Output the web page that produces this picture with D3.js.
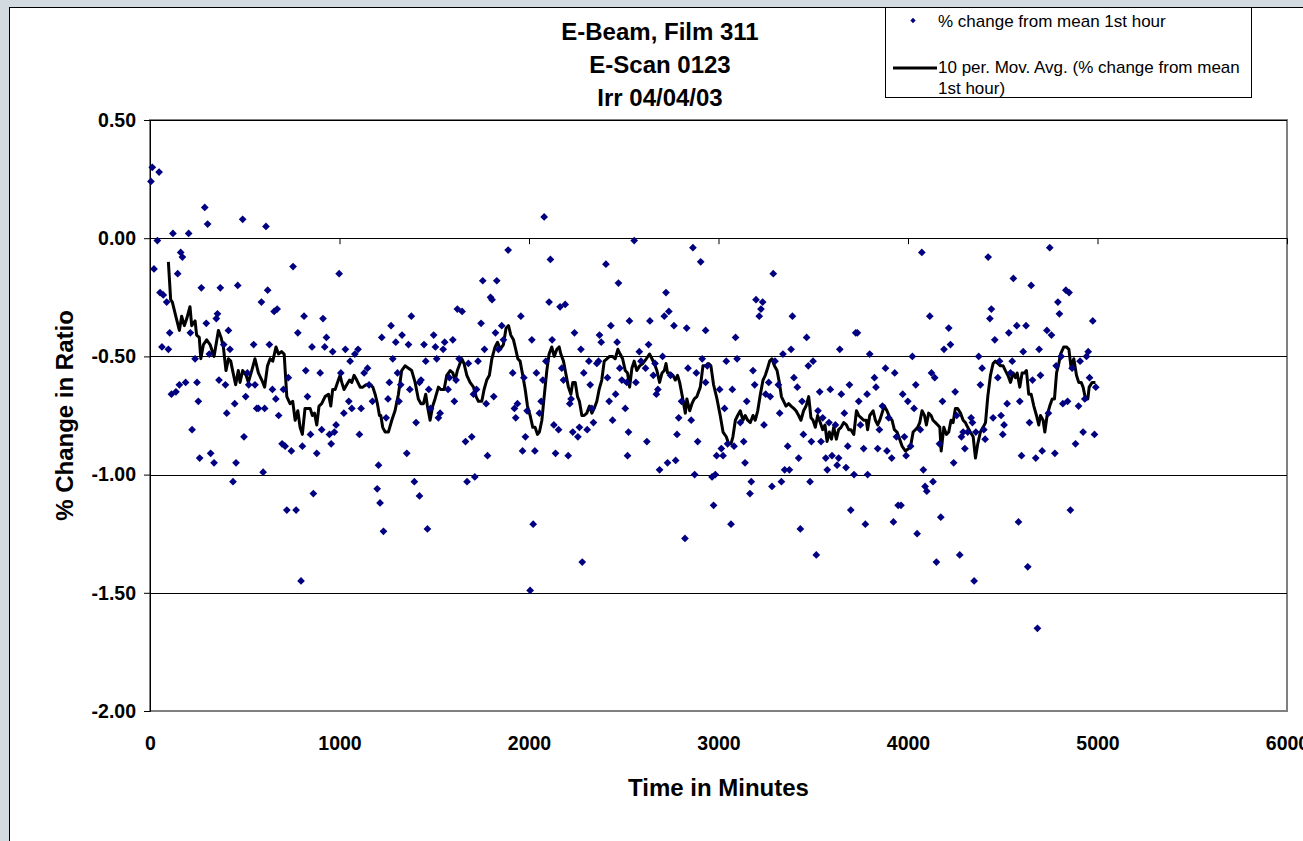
<!DOCTYPE html>
<html>
<head>
<meta charset="utf-8">
<script src="https://cdn.jsdelivr.net/npm/d3@7"></script>
<style>
  html, body { margin: 0; padding: 0; background: #d3dbe0; }
  svg { display: block; font-family: "Liberation Sans", Arial, sans-serif; }
  .tick text { font-weight: bold; font-size: 19.5px; fill: #000; }
</style>
</head>
<body>
<svg id="chart" width="1303" height="841"></svg>
<script>
// % change from mean of the 1st hour, [minutes, value]
var pts0 = [[5,0.24],[12,0.30],[48,0.28],[39,-0.01],[21,-0.13],[121,0.02],[204,0.02],[289,0.13],[304,0.06],[489,0.08],
  [612,0.05],[162,-0.06],[171,-0.08],[146,-0.15],[53,-0.23],[70,-0.24],[88,-0.27],[104,-0.40],[63,-0.46],[97,-0.47],
  [113,-0.66],[137,-0.65],[155,-0.62],[188,-0.61],[271,-0.21],[297,-0.36],[213,-0.40],[238,-0.51],[248,-0.61],[255,-0.69],
  [222,-0.81],[262,-0.93],[320,-0.91],[338,-0.95],[371,-0.21],[350,-0.34],[356,-0.32],[313,-0.49],[389,-0.45],[414,-0.39],
  [422,-0.47],[364,-0.60],[398,-0.62],[405,-0.74],[447,-0.70],[454,-0.95],[438,-1.03],[463,-0.20],[496,-0.84],[505,-0.67],
  [521,-0.62],[514,-0.57],[547,-0.45],[554,-0.62],[563,-0.72],[572,-0.72],[605,-0.72],[597,-0.99],[588,-0.27],[621,-0.22],
  [630,-0.45],[655,-0.31],[671,-0.30],[646,-0.64],[664,-0.68],[679,-0.75],[697,-0.87],[713,-0.88],[704,-0.64],[730,-0.59],
  [722,-1.15],[746,-0.90],[755,-0.12],[771,-1.15],[780,-0.40],[813,-0.33],[797,-1.45],[804,-0.88],[822,-0.56],[831,-0.67],
  [847,-0.83],[855,-0.46],[862,-1.08],[880,-0.91],[898,-0.57],[906,-0.81],[913,-0.34],[922,-0.46],[931,-0.42],[947,-0.83],
  [956,-0.87],[964,-0.48],[973,-0.82],[982,-0.79],[998,-0.15],[1007,-0.57],[1023,-0.74],[1031,-0.47],[1049,-0.69],[1056,-0.52],
  [1065,-0.72],[1081,-0.49],[1098,-0.47],[1105,-0.83],[1114,-0.72],[1130,-0.57],[1148,-0.55],[1156,-0.62],[1174,-0.69],[1206,-0.96],
  [1199,-1.06],[1214,-1.12]];
var pts1 = [[1232,-1.24],[1223,-0.42],[1246,-0.76],[1263,-0.61],[1256,-0.68],[1272,-0.37],[1281,-0.51],[1297,-0.44],[1306,-0.57],[1314,-0.69],
  [1323,-0.62],[1330,-0.41],[1364,-0.45],[1355,-0.91],[1371,-0.64],[1379,-0.33],[1395,-1.03],[1404,-0.78],[1422,-1.09],[1422,-0.61],
  [1430,-0.60],[1446,-0.45],[1455,-0.52],[1464,-1.23],[1471,-0.64],[1480,-0.72],[1497,-0.41],[1506,-0.46],[1513,-0.51],[1522,-0.76],
  [1531,-0.74],[1547,-0.47],[1555,-0.44],[1573,-0.64],[1580,-0.59],[1598,-0.43],[1606,-0.69],[1615,-0.60],[1622,-0.30],[1647,-0.31],
  [1631,-0.51],[1665,-0.86],[1673,-1.03],[1680,-0.53],[1698,-0.84],[1707,-0.66],[1714,-1.01],[1723,-0.64],[1731,-0.52],[1747,-0.36],
  [1756,-0.18],[1765,-0.47],[1774,-0.70],[1781,-0.92],[1797,-0.25],[1805,-0.26],[1814,-0.67],[1823,-0.40],[1830,-0.18],[1839,-0.47],
  [1856,-0.37],[1865,-0.43],[1890,-0.05],[1914,-0.57],[1923,-0.72],[1930,-0.76],[1939,-0.70],[1957,-0.33],[1966,-0.90],[1973,-0.59],
  [1981,-0.84],[1990,-0.73],[2006,-1.49],[2015,-0.43],[2022,-1.21],[2031,-0.90],[2039,-0.57],[2055,-0.74],[2064,-0.69],[2073,-0.60],
  [2080,0.09],[2089,-0.52],[2106,-0.27],[2113,-0.09],[2122,-0.43],[2131,-0.79],[2140,-0.91],[2156,-0.81],[2164,-0.29],[2173,-0.55],
  [2182,-0.60],[2191,-0.28],[2207,-0.92],[2215,-0.70],[2222,-0.68],[2231,-0.82],[2240,-0.40],[2258,-0.84],[2266,-0.80],[2274,-0.47],
  [2281,-1.37],[2289,-0.57],[2307,-0.81],[2316,-0.52],[2323,-0.62],[2332,-0.72],[2340,-0.78],[2358,-0.53],[2367,-0.52],[2372,-0.41],
  [2381,-0.44],[2406,-0.11],[2414,-0.59],[2423,-0.69],[2432,-0.37],[2441,-0.77],[2457,-0.66],[2465,-0.44],[2472,-0.19],[2479,-0.55],
  [2490,-0.60],[2508,-0.72],[2516,-0.61],[2525,-0.82],[2520,-0.92],[2530,-0.35]];
var pts2 = [[2555,-0.01],[2564,-0.61],[2582,-0.48],[2591,-0.52],[2615,-0.55],[2622,-0.86],[2631,-0.45],[2638,-0.35],[2656,-0.58],[2665,-0.53],
  [2672,-0.66],[2680,-0.64],[2689,-0.98],[2705,-0.50],[2714,-0.33],[2723,-0.23],[2731,-0.95],[2738,-0.31],[2747,-0.58],[2765,-0.37],
  [2774,-0.94],[2781,-0.83],[2790,-0.76],[2805,-0.69],[2823,-1.27],[2832,-0.38],[2839,-0.55],[2856,-0.77],[2865,-0.04],[2874,-1.00],
  [2883,-0.57],[2890,-0.86],[2906,-0.10],[2914,-0.51],[2932,-0.39],[2932,-0.61],[2941,-0.54],[2966,-1.01],[2974,-1.13],[2983,-1.00],
  [2990,-0.92],[3006,-0.64],[3015,-0.89],[3024,-0.92],[3032,-0.72],[3041,-0.52],[3048,-0.87],[3066,-1.21],[3073,-0.64],[3082,-0.88],
  [3090,-0.42],[3098,-0.51],[3115,-0.78],[3133,-0.86],[3140,-0.95],[3149,-0.69],[3166,-1.08],[3173,-1.03],[3182,-0.56],[3191,-0.62],
  [3198,-0.26],[3215,-0.33],[3224,-0.30],[3233,-0.27],[3240,-0.79],[3249,-0.66],[3265,-0.61],[3273,-0.67],[3282,-1.05],[3289,-0.15],
  [3298,-0.52],[3316,-0.62],[3323,-0.74],[3332,-1.03],[3340,-0.49],[3349,-0.98],[3365,-0.88],[3374,-0.98],[3383,-0.47],[3390,-0.33],
  [3398,-0.59],[3416,-0.63],[3423,-0.93],[3432,-1.23],[3441,-0.69],[3448,-0.83],[3465,-0.42],[3474,-0.54],[3483,-1.03],[3490,-0.86],
  [3499,-0.52],[3516,-1.34],[3525,-0.73],[3534,-0.65],[3541,-0.86],[3550,-0.76],[3566,-0.93],[3574,-0.98],[3583,-0.78],[3590,-0.64],
  [3599,-0.92],[3617,-0.79],[3626,-0.96],[3634,-0.93],[3640,-0.47],[3648,-0.66],[3664,-0.74],[3673,-0.97],[3682,-0.88],[3691,-0.62],
  [3698,-1.15],[3715,-1.00],[3724,-0.40],[3733,-0.40],[3740,-0.69],[3749,-0.79],[3766,-0.89],[3775,-1.21],[3784,-0.66],[3787,-1.00],
  [3798,-0.49]];
var pts3 = [[3823,-0.59],[3831,-0.63],[3849,-0.81],[3840,-0.89],[3865,-0.71],[3881,-0.55],[3889,-0.90],[3898,-0.76],[3914,-0.93],[3923,-1.20],
  [3930,-0.57],[3939,-0.84],[3948,-1.13],[3963,-1.13],[3972,-0.66],[3981,-0.84],[3990,-0.92],[3999,-0.69],[4014,-0.88],[4023,-0.50],
  [4032,-0.72],[4041,-0.62],[4048,-1.25],[4065,-0.81],[4073,-0.06],[4081,-0.98],[4090,-1.05],[4099,-1.07],[4115,-0.33],[4124,-0.57],
  [4132,-1.03],[4141,-0.59],[4150,-1.37],[4166,-0.87],[4173,-1.18],[4182,-0.69],[4190,-0.47],[4215,-0.38],[4224,-0.45],[4241,-0.95],
  [4249,-0.65],[4257,-0.75],[4273,-1.34],[4282,-0.84],[4291,-0.82],[4300,-0.89],[4315,-0.82],[4333,-0.76],[4340,-0.78],[4349,-1.45],
  [4358,-0.82],[4373,-0.50],[4382,-0.62],[4391,-0.55],[4400,-0.81],[4407,-0.85],[4423,-0.08],[4432,-0.34],[4440,-0.30],[4449,-0.76],
  [4458,-0.43],[4474,-0.59],[4483,-0.52],[4491,-0.75],[4500,-0.83],[4507,-0.79],[4523,-0.70],[4532,-0.40],[4541,-0.57],[4550,-0.52],
  [4556,-0.17],[4574,-0.37],[4583,-1.20],[4590,-0.69],[4599,-0.92],[4608,-0.48],[4623,-0.37],[4632,-1.39],[4641,-0.78],[4650,-0.20],
  [4657,-0.60],[4674,-0.93],[4683,-1.65],[4692,-0.47],[4699,-0.58],[4708,-0.90],[4733,-0.39],[4741,-0.74],[4748,-0.04],[4757,-0.41],
  [4775,-0.91],[4782,-0.54],[4791,-0.27],[4799,-0.32],[4808,-0.50],[4817,-0.70],[4833,-0.22],[4842,-0.69],[4850,-0.23],[4857,-1.15],
  [4866,-0.55],[4884,-0.87],[4900,-0.71],[4908,-0.52],[4924,-0.82],[4933,-0.68],[4942,-0.50],[4951,-0.48],[4958,-0.59],[4975,-0.35],
  [4984,-0.83],[4991,-0.63]];

// 10 per. moving average
var maA = [[97,-0.10],[109,-0.26],[118,-0.27],[136,-0.33],[155,-0.39],[167,-0.33],[181,-0.37],[194,-0.34],[211,-0.29],[220,-0.37],
  [238,-0.35],[246,-0.41],[260,-0.42],[268,-0.51],[282,-0.45],[299,-0.43],[317,-0.45],[338,-0.50],[361,-0.39],[375,-0.42],
  [387,-0.46],[401,-0.56],[414,-0.51],[426,-0.52],[436,-0.56],[452,-0.62],[466,-0.56],[475,-0.61],[489,-0.56],[507,-0.58],
  [519,-0.61],[537,-0.56],[554,-0.51],[572,-0.57],[590,-0.60],[605,-0.63],[620,-0.54],[634,-0.51],[648,-0.52],[665,-0.46],
  [678,-0.49],[694,-0.48],[708,-0.49],[722,-0.67],[739,-0.70],[753,-0.69],[766,-0.77],[780,-0.73],[792,-0.80],[804,-0.83],
  [818,-0.72],[845,-0.72],[857,-0.75],[868,-0.74],[880,-0.79],[892,-0.71],[906,-0.70],[924,-0.67],[942,-0.66],[954,-0.71],
  [964,-0.64],[977,-0.64],[994,-0.60],[1003,-0.58],[1012,-0.61],[1024,-0.64],[1038,-0.62],[1053,-0.60],[1065,-0.61],[1077,-0.58],
  [1091,-0.60],[1109,-0.63],[1123,-0.63],[1140,-0.62],[1162,-0.62],[1176,-0.63],[1188,-0.66],[1200,-0.70],[1211,-0.75],[1218,-0.75],
  [1228,-0.80],[1241,-0.82],[1258,-0.82]];
var maB = [[1276,-0.77],[1293,-0.73],[1311,-0.66],[1328,-0.56],[1346,-0.54],[1364,-0.55],[1381,-0.56],[1399,-0.61],[1416,-0.68],[1430,-0.70],
  [1443,-0.70],[1455,-0.66],[1464,-0.71],[1478,-0.77],[1492,-0.71],[1504,-0.68],[1522,-0.63],[1534,-0.64],[1552,-0.64],[1566,-0.58],
  [1584,-0.56],[1598,-0.57],[1610,-0.60],[1622,-0.56],[1645,-0.51],[1657,-0.53],[1672,-0.58],[1689,-0.61],[1707,-0.63],[1721,-0.67],
  [1733,-0.69],[1751,-0.69],[1763,-0.64],[1777,-0.60],[1791,-0.58],[1804,-0.51],[1821,-0.46],[1834,-0.44],[1848,-0.47],[1865,-0.45],
  [1879,-0.38],[1892,-0.37],[1904,-0.41],[1918,-0.43],[1930,-0.47],[1941,-0.51],[1953,-0.52],[1967,-0.58],[1980,-0.64],[1992,-0.71],
  [2006,-0.75],[2020,-0.80],[2032,-0.80],[2045,-0.83],[2055,-0.82],[2068,-0.77],[2080,-0.67],[2094,-0.56],[2106,-0.49],[2120,-0.46],
  [2133,-0.50],[2147,-0.47],[2159,-0.46],[2168,-0.49],[2182,-0.52],[2196,-0.58],[2208,-0.63],[2221,-0.66],[2231,-0.61],[2244,-0.61],
  [2256,-0.67],[2266,-0.69],[2279,-0.75],[2291,-0.75],[2305,-0.74],[2319,-0.71],[2332,-0.74],[2344,-0.72],[2358,-0.69],[2370,-0.64],
  [2384,-0.60],[2397,-0.52],[2411,-0.51],[2425,-0.50],[2441,-0.50],[2455,-0.51],[2469,-0.47],[2481,-0.49]];
var maC = [[2494,-0.51],[2508,-0.56],[2520,-0.57],[2531,-0.63],[2543,-0.55],[2555,-0.52],[2569,-0.56],[2584,-0.54],[2601,-0.53],[2619,-0.51],
  [2636,-0.49],[2649,-0.51],[2661,-0.53],[2675,-0.56],[2689,-0.61],[2702,-0.57],[2714,-0.56],[2723,-0.53],[2731,-0.57],[2745,-0.57],
  [2760,-0.58],[2772,-0.60],[2784,-0.58],[2795,-0.61],[2807,-0.66],[2816,-0.70],[2825,-0.74],[2833,-0.68],[2848,-0.73],[2860,-0.70],
  [2872,-0.68],[2886,-0.67],[2904,-0.63],[2918,-0.54],[2936,-0.54],[2948,-0.53],[2960,-0.54],[2974,-0.62],[2992,-0.68],[3009,-0.75],
  [3024,-0.82],[3041,-0.84],[3054,-0.87],[3066,-0.87],[3076,-0.84],[3089,-0.77],[3101,-0.75],[3115,-0.73],[3129,-0.77],[3141,-0.75],
  [3154,-0.77],[3168,-0.78],[3182,-0.75],[3194,-0.77],[3207,-0.73],[3221,-0.66],[3235,-0.60],[3247,-0.58],[3259,-0.55],[3270,-0.52],
  [3282,-0.51],[3295,-0.54],[3309,-0.56],[3321,-0.61],[3332,-0.67],[3344,-0.69],[3356,-0.71],[3370,-0.70],[3383,-0.71],[3397,-0.72],
  [3409,-0.73],[3423,-0.75],[3435,-0.77],[3449,-0.73],[3462,-0.71],[3476,-0.67],[3488,-0.76],[3499,-0.77],[3511,-0.80],[3523,-0.75],
  [3537,-0.78],[3550,-0.81],[3562,-0.79],[3573,-0.86],[3585,-0.82],[3596,-0.85],[3608,-0.80],[3622,-0.85],[3634,-0.81],[3647,-0.80],
  [3661,-0.78],[3675,-0.79],[3687,-0.81],[3699,-0.81],[3714,-0.83],[3728,-0.73],[3740,-0.75],[3753,-0.76],[3766,-0.77],[3780,-0.77],
  [3787,-0.81]];
var maD = [[3798,-0.75],[3816,-0.73],[3828,-0.77],[3840,-0.79],[3851,-0.77],[3863,-0.74],[3875,-0.71],[3889,-0.73],[3904,-0.76],[3916,-0.77],
  [3928,-0.81],[3942,-0.82],[3956,-0.85],[3969,-0.88],[3986,-0.90],[4004,-0.89],[4016,-0.87],[4027,-0.82],[4039,-0.81],[4051,-0.80],
  [4062,-0.78],[4074,-0.73],[4087,-0.75],[4097,-0.79],[4109,-0.74],[4122,-0.75],[4132,-0.77],[4145,-0.78],[4157,-0.79],[4168,-0.80],
  [4175,-0.90],[4189,-0.80],[4203,-0.83],[4215,-0.82],[4227,-0.77],[4238,-0.78],[4250,-0.72],[4262,-0.72],[4277,-0.74],[4291,-0.77],
  [4303,-0.78],[4315,-0.80],[4329,-0.82],[4344,-0.84],[4356,-0.93],[4368,-0.87],[4382,-0.82],[4396,-0.80],[4409,-0.78],[4421,-0.67],
  [4435,-0.58],[4449,-0.53],[4461,-0.52],[4474,-0.53],[4488,-0.54],[4502,-0.54],[4514,-0.56],[4527,-0.58],[4541,-0.61],[4555,-0.57],
  [4567,-0.59],[4576,-0.57],[4590,-0.63],[4602,-0.57],[4614,-0.57],[4625,-0.56],[4637,-0.66],[4650,-0.66],[4664,-0.71],[4678,-0.75],
  [4690,-0.79],[4699,-0.75],[4713,-0.77],[4722,-0.82],[4734,-0.75],[4748,-0.71],[4761,-0.68],[4773,-0.68],[4784,-0.57],[4796,-0.53],
  [4805,-0.49],[4822,-0.46],[4836,-0.46],[4849,-0.47],[4861,-0.55],[4875,-0.51],[4889,-0.58],[4901,-0.61],[4914,-0.61],[4924,-0.63],
  [4937,-0.68],[4949,-0.68],[4956,-0.63],[4972,-0.61],[4989,-0.61]];

var xTicks = [0, 1000, 2000, 3000, 4000, 5000, 6000];
var yTicks = [0.5, 0, -0.5, -1, -1.5, -2];
var titleLines = ["E-Beam, Film 311", "E-Scan 0123", "Irr 04/04/03"];
var legendScatter = "% change from mean 1st hour";
var legendLine = ["10 per. Mov. Avg. (% change from mean", "1st hour)"];

var svg = d3.select("#chart");
var font = '"Liberation Sans", Arial, sans-serif';

var x = d3.scaleLinear().domain([0, 6000]).range([150, 1287]);
var y = d3.scaleLinear().domain([-2, 0.5]).range([711, 120]);

// chart area (white, thin dark frame, runs off right/bottom)
svg.append("rect").attr("x", 9.5).attr("y", 7.5).attr("width", 1400).attr("height", 900)
    .attr("fill", "#fff").attr("stroke", "#000").attr("stroke-width", 1);

// plot area
svg.append("rect").attr("x", x(0)).attr("y", y(0.5))
    .attr("width", x(6000) - x(0)).attr("height", y(-2) - y(0.5))
    .attr("fill", "#fff").attr("stroke", "#808080").attr("stroke-width", 2);

svg.append("g").selectAll("line")
    .data(yTicks.filter(function (d) { return d > -2; }))
    .enter().append("line")
    .attr("x1", x(0)).attr("x2", x(6000))
    .attr("y1", function (d) { return Math.round(y(d)) + 0.5; })
    .attr("y2", function (d) { return Math.round(y(d)) + 0.5; })
    .attr("stroke", "#000").attr("stroke-width", 1);

// y axis
var yAxis = svg.append("g").attr("transform", "translate(" + x(0) + ",0)")
    .call(d3.axisLeft(y).tickValues(yTicks).tickSize(6).tickPadding(8)
        .tickFormat(function (d) { return d.toFixed(2); }));
yAxis.select(".domain").attr("stroke", "#000");
yAxis.selectAll(".tick line").attr("stroke", "#000");

// x axis crosses at 0, labels sit low under the plot
var xAxis = svg.append("g").attr("transform", "translate(0," + y(0) + ")")
    .call(d3.axisBottom(x).tickValues(xTicks).tickSize(6).tickFormat(""));
xAxis.select(".domain").remove();
xAxis.selectAll(".tick line").attr("stroke", "#000");

var xLabels = svg.append("g").attr("transform", "translate(0," + y(-2) + ")")
    .call(d3.axisBottom(x).tickValues(xTicks).tickSize(0).tickPadding(25)
        .tickFormat(function (d) { return String(d); }));
xLabels.select(".domain").remove();

// moving average line
var line = d3.line()
    .x(function (d) { return x(d[0]); })
    .y(function (d) { return y(d[1]); });
var maAll = maA.concat(maB, maC, maD);
svg.append("path").datum(maAll)
    .attr("d", line)
    .attr("fill", "none").attr("stroke", "#000").attr("stroke-width", 3)
    .attr("stroke-linejoin", "round");

// scatter diamonds
var diamond = d3.symbol().type(d3.symbolSquare).size(30);
var allPts = pts0.concat(pts1, pts2, pts3);
svg.append("g").selectAll("path")
    .data(allPts)
    .enter().append("path")
    .attr("d", diamond)
    .attr("transform", function (d) {
        return "translate(" + x(d[0]) + "," + y(d[1]) + ") rotate(45)";
    })
    .attr("fill", "#000080");

// titles
svg.append("g").selectAll("text")
    .data(titleLines)
    .enter().append("text")
    .attr("x", 660)
    .attr("y", function (d, i) { return 40 + i * 33; })
    .attr("text-anchor", "middle")
    .attr("font-family", font).attr("font-weight", "bold").attr("font-size", 24)
    .text(function (d) { return d; });

svg.append("text")
    .attr("x", (x(0) + x(6000)) / 2).attr("y", 796)
    .attr("text-anchor", "middle")
    .attr("font-family", font).attr("font-weight", "bold").attr("font-size", 24)
    .text("Time in Minutes");

svg.append("text")
    .attr("transform", "translate(73," + (y(0.5) + y(-2)) / 2 + ") rotate(-90)")
    .attr("text-anchor", "middle")
    .attr("font-family", font).attr("font-weight", "bold").attr("font-size", 24)
    .text("% Change in Ratio");

// legend
var lg = svg.append("g");
lg.append("rect").attr("x", 885.5).attr("y", 7.5).attr("width", 366).attr("height", 90)
    .attr("fill", "#fff").attr("stroke", "#000").attr("stroke-width", 1);
lg.append("path").attr("d", d3.symbol().type(d3.symbolSquare).size(14))
    .attr("transform", "translate(913,20.5) rotate(45)").attr("fill", "#000080");
lg.append("text").attr("x", 938).attr("y", 26.5)
    .attr("font-family", font).attr("font-size", 17)
    .text(legendScatter);
lg.append("line").attr("x1", 893).attr("x2", 937).attr("y1", 68).attr("y2", 68)
    .attr("stroke", "#000").attr("stroke-width", 3);
lg.selectAll(".lgl").data(legendLine).enter().append("text")
    .attr("x", 938).attr("y", function (d, i) { return 73 + i * 20.5; })
    .attr("font-family", font).attr("font-size", 17)
    .text(function (d) { return d; });
</script>
</body>
</html>
